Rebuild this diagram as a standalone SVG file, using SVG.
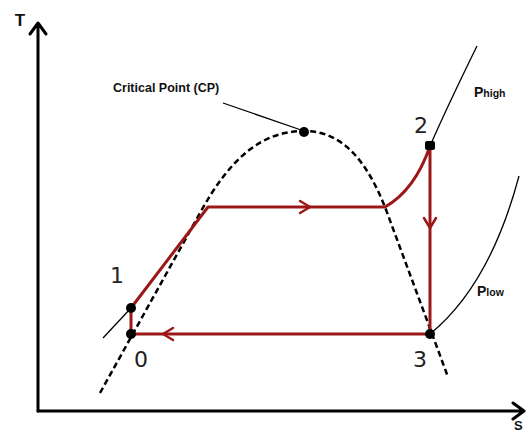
<svg xmlns="http://www.w3.org/2000/svg" width="527" height="434" viewBox="0 0 527 434">
<defs>
<style>
.axis{stroke:#000;stroke-width:3;fill:none;stroke-linecap:round;stroke-linejoin:round}
.dome{stroke:#000;stroke-width:2.5;fill:none;stroke-dasharray:6 3.5}
.iso{stroke:#000;stroke-width:1.3;fill:none}
.red{stroke:#9c1818;stroke-width:3;fill:none;stroke-linejoin:round}
.chev{stroke:#9c1818;stroke-width:2.5;fill:none;stroke-linecap:round;stroke-linejoin:round}
.dot{fill:#000}
.num{font-family:"DejaVu Sans",sans-serif;font-size:22px;fill:#222;text-anchor:middle}
.lbl{font-family:"Liberation Sans",Arial,sans-serif;font-weight:bold;fill:#111}
</style>
</defs>
<rect width="527" height="434" fill="#fff"/>
<g id="axes">
<path class="axis" d="M38,411 L38,24 M30,34 L38,23 L46,34"/>
<path class="axis" d="M38,411 L523,411 M513,403 L524,411 L513,419"/>
<text class="lbl" x="20" y="26" font-size="17" text-anchor="middle">T</text>
<text class="lbl" x="514" y="430" font-size="13">S</text>
</g>
<g id="dome">
<path class="dome" d="M100,393 L200,213 C230,158 262,131 304,131 C345,131 368,165 385,207 L448,377"/>
</g>
<g id="isobars">
<path class="iso" d="M430,146 Q448,105 477,46"/>
<path class="iso" d="M103,338 L131,308"/>
<path class="iso" d="M430,334 Q490,285 519,176"/>
<text class="lbl" x="474" y="97" font-size="14">P<tspan font-size="10.5">high</tspan></text>
<text class="lbl" x="477" y="296" font-size="14">P<tspan font-size="10.5">low</tspan></text>
</g>
<g id="connectors">
<path class="red" d="M131,334 L131,308 L208,207 L385,207 Q415,190 430,146 L430,334 L131,334"/>
<path class="chev" d="M300,201 L310,207 L300,213"/>
<path class="chev" d="M424,218 L430,228 L436,218"/>
<path class="chev" d="M173,328 L163,334 L173,340"/>
<path stroke="#000" stroke-width="1.3" fill="none" d="M223,103 L304,131"/>
</g>
<g id="cp">
<circle class="dot" cx="304" cy="132" r="5"/>
<text class="lbl" x="113" y="92" font-size="12.5">Critical Point (CP)</text>
</g>
<g id="p1">
<circle class="dot" cx="131" cy="308" r="5"/>
<text class="num" x="117" y="283">1</text>
</g>
<g id="p0">
<circle class="dot" cx="131" cy="334" r="5"/>
<text class="num" x="141" y="367">0</text>
</g>
<g id="p2">
<rect class="dot" x="425" y="141" width="10" height="9" rx="2"/>
<text class="num" x="421" y="133">2</text>
</g>
<g id="p3">
<circle class="dot" cx="430" cy="334" r="5"/>
<text class="num" x="420" y="367">3</text>
</g>
</svg>
